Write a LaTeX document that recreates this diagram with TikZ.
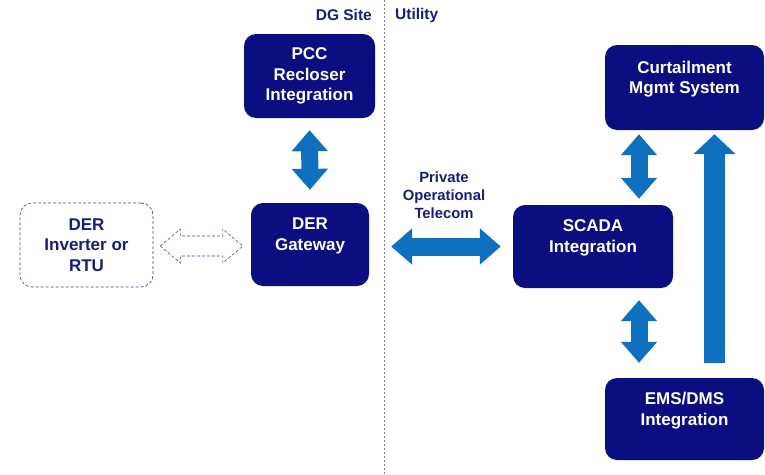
\documentclass[tikz,border=0pt]{standalone}
\usepackage{fontspec}
\setmainfont{Liberation Sans}
\usetikzlibrary{arrows.meta,calc}
\definecolor{boxnavy}{RGB}{10,14,128}
\definecolor{arrblue}{RGB}{14,112,190}
\definecolor{labnavy}{RGB}{22,30,120}
\definecolor{dashgray}{RGB}{70,80,130}
\tikzset{
  box/.style={draw=none, fill=boxnavy, rounded corners=12pt, text=white,
    font=\bfseries\fontsize{17}{20.5}\selectfont, align=center, inner sep=0pt},
  dbox/.style={draw=dashgray, dashed, line width=0.7pt, dash pattern=on 3pt off 2pt,
    rounded corners=12pt, text=labnavy,
    font=\bfseries\fontsize{17}{20.5}\selectfont, align=center, inner sep=0pt},
  lab/.style={text=labnavy, font=\bfseries\fontsize{15.5}{18}\selectfont, inner sep=0pt},
  fatdbl/.style={draw=arrblue, line width=17pt,
    {Triangle[width=35pt,length=21pt]}-{Triangle[width=35pt,length=21pt]}},
  fatone/.style={draw=arrblue, line width=21pt, -{Triangle[width=41pt,length=20pt]}},
}
\begin{document}
\begin{tikzpicture}[x=1pt,y=-1pt]
\useasboundingbox (0,0) rectangle (765,474);
% divider
\draw[gray, line width=0.8pt, dash pattern=on 2pt off 2pt] (384,0) -- (384,474);
\node[lab, anchor=east] (dg) at (372,15) {DG Site};
\node[lab, anchor=west] (ut) at (395,15) {Utility};

% nodes
\node[box, minimum width=131pt, minimum height=84pt] (pcc) at (309.5,76) {PCC\\Recloser\\Integration};
\node[box, minimum width=118pt, minimum height=83pt] (gw) at (310,244.5) {DER\\Gateway\\~};
\node[dbox, minimum width=133pt, minimum height=84pt] (inv) at (86.5,245) {DER\\Inverter or\\RTU};
\node[box, minimum width=159pt, minimum height=85pt] (curt) at (684.5,87.5) {Curtailment\\Mgmt System\\~};
\node[box, minimum width=160pt, minimum height=83pt] (scada) at (593,246.5) {SCADA\\Integration\\~};
\node[box, minimum width=159pt, minimum height=82pt] (ems) at (684.5,419) {EMS/DMS\\Integration\\~};

\node[lab, align=center, font=\bfseries\fontsize{14.8}{18}\selectfont] (tel) at (444,195) {Private\\Operational\\Telecom};

% connectors
\draw[fatdbl, shorten <=12pt, shorten >=13pt] (pcc.south) -- (gw.north);
\draw[fatdbl, line width=18pt, shorten <=22pt, shorten >=12pt] (gw.east |- scada.west) -- (scada.west);
\coordinate (cx) at (639,0);
\coordinate (ux) at (714.5,0);
\draw[fatdbl, shorten <=4pt, shorten >=6pt] (curt.south -| cx) -- (scada.north -| cx);
\draw[fatdbl, shorten <=12pt, shorten >=15pt] (scada.south -| cx) -- (ems.north -| cx);
\draw[fatone, shorten <=15pt, shorten >=4pt] (ems.north -| ux) -- (curt.south -| ux);

% dashed outline double arrow
\coordinate (da) at ($(inv.east)+(7,1)$);
\coordinate (db) at ($(gw.west |- da)+(-8,0)$);
\draw[dashgray, line width=0.6pt, dash pattern=on 3pt off 2pt]
  (da) -- ($(da)+(20,-17)$) -- ($(da)+(20,-10)$) -- ($(db)+(-20,-10)$) -- ($(db)+(-20,-17)$)
  -- (db) -- ($(db)+(-20,17)$) -- ($(db)+(-20,10)$) -- ($(da)+(20,10)$) -- ($(da)+(20,17)$) -- cycle;
\end{tikzpicture}
\end{document}
